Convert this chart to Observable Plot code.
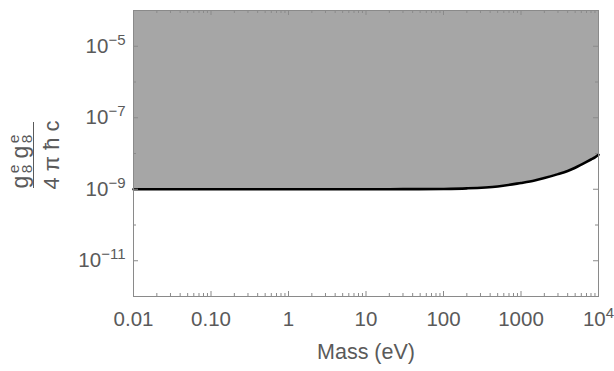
<!DOCTYPE html>
<html><head><meta charset="utf-8">
<script src="https://cdn.jsdelivr.net/npm/d3@7"></script>
<script src="https://cdn.jsdelivr.net/npm/@observablehq/plot@0.6"></script>
<style>body{margin:0;background:#fff} svg{display:block}</style>
</head><body><div id="chart"></div>
<script>
// Mass (eV)
const mass = [0.01, 0.1, 1, 10, 30, 100, 200, 500, 1000, 1500, 2000, 3000, 4000, 5000, 6000, 7000, 8000, 9000, 10000];
// coupling g8e g8e / (4 pi hbar c) upper boundary of excluded (grey) region
const coupling = [1e-9, 1e-9, 1e-9, 1e-9, 1.005e-9, 1.02e-9, 1.06e-9, 1.2e-9, 1.5e-9, 1.75e-9, 2.05e-9, 2.65e-9, 3.25e-9, 4.0e-9, 4.9e-9, 5.85e-9, 6.8e-9, 7.8e-9, 9.2e-9];
const xTicks = [0.01, 0.1, 1, 10, 100, 1000, 10000];
const xTickLabels = ["0.01", "0.10", "1", "10", "100", "1000", "10^4"];
const yTicks = [1e-11, 1e-9, 1e-7, 1e-5];
const yTickLabels = ["10^\u221211", "10^\u22129", "10^\u22127", "10^\u22125"];
const yMinorTicks = [1e-10, 1e-8, 1e-6];
const xMinorTicks = [0.01, 0.1, 1, 10, 100, 1000].flatMap(d => [2,3,4,5,6,7,8,9].map(k => d * k));
const xDomain = [0.01, 1e4];
const yDomain = [1e-12, 1e-4];

const table = mass.map((m, i) => ({mass: m, g: coupling[i]}));

const W = 614, H = 371, mL = 133, mR = 16, mT = 10, mB = 75;
const pw = W - mL - mR, ph = H - mT - mB;
const frameColor = "#8a8a8a";
const textColor = "#5a5a5a";
const font = "Liberation Sans, Arial, Helvetica, sans-serif";

const svg = Plot.plot({
  width: W, height: H,
  marginLeft: mL, marginRight: mR, marginTop: mT, marginBottom: mB,
  x: {type: "log", domain: xDomain},
  y: {type: "log", domain: yDomain},
  style: {fontFamily: font, color: textColor, background: "#fff"},
  marks: [
    Plot.areaY(table, {x: "mass", y1: "g", y2: () => yDomain[1], fill: "#a6a6a6", curve: "catmull-rom"}),
    Plot.line(table, {x: "mass", y: "g", stroke: "#000", strokeWidth: 2.6, curve: "catmull-rom"}),
    Plot.frame({stroke: frameColor}),
    // inward ticks bottom/top
    Plot.tickX(xTicks, {x: d => d, insetTop: ph - 5, stroke: frameColor}),
    Plot.tickX(xTicks, {x: d => d, insetBottom: ph - 5, stroke: frameColor}),
    Plot.tickX(xMinorTicks, {x: d => d, insetTop: ph - 3, stroke: frameColor}),
    Plot.tickX(xMinorTicks, {x: d => d, insetBottom: ph - 3, stroke: frameColor}),
    // inward ticks left/right
    Plot.tickY(yTicks, {y: d => d, insetRight: pw - 5, stroke: frameColor}),
    Plot.tickY(yTicks, {y: d => d, insetLeft: pw - 5, stroke: frameColor}),
    Plot.tickY(yMinorTicks, {y: d => d, insetRight: pw - 3, stroke: frameColor}),
    Plot.tickY(yMinorTicks, {y: d => d, insetLeft: pw - 3, stroke: frameColor}),
    Plot.axisX({ticks: xTicks, tickSize: 0, tickPadding: 15, fontSize: 20.5, tickFormat: d => xTickLabels[xTicks.indexOf(d)], label: null}),
    Plot.axisY({ticks: yTicks, tickSize: 0, tickPadding: 8, fontSize: 20.5, tickFormat: d => yTickLabels[yTicks.indexOf(d)], label: null}),
    Plot.text(["Mass (eV)"], {frameAnchor: "bottom", dy: 62, fontSize: 21.5, fill: textColor})
  ]
});

// superscripts
d3.select(svg).selectAll("text").each(function() {
  const s = this.textContent;
  if (s.includes("^")) {
    const [b, e] = s.split("^");
    const t = d3.select(this);
    t.text("");
    t.append("tspan").text(b);
    t.append("tspan").attr("font-size", 15).attr("dy", -8).text(e);
  }
});

// y-axis label: fraction
const g = d3.select(svg).append("g")
  .attr("transform", "translate(35,155) rotate(-90)")
  .attr("fill", textColor).attr("font-family", font);
g.append("line").attr("x1", -33).attr("x2", 33).attr("y1", -1.5).attr("y2", -1.5)
  .attr("stroke", textColor).attr("stroke-width", 1);
const num = g.append("text").attr("font-size", 23);
num.append("tspan").attr("x", -27).attr("y", -7).text("g");
num.append("tspan").attr("x", -14).attr("y", -3).attr("font-size", 15.5).text("8");
num.append("tspan").attr("x", -14).attr("y", -16).attr("font-size", 15.5).text("e");
num.append("tspan").attr("x", 3).attr("y", -7).text("g");
num.append("tspan").attr("x", 16).attr("y", -3).attr("font-size", 15.5).text("8");
num.append("tspan").attr("x", 16).attr("y", -16).attr("font-size", 15.5).text("e");
g.append("text").attr("font-size", 22).attr("text-anchor", "middle").attr("x", 0).attr("y", 24)
  .text("4 \u03C0 \u0127 c");

document.getElementById("chart").appendChild(svg);
</script>
</body></html>
